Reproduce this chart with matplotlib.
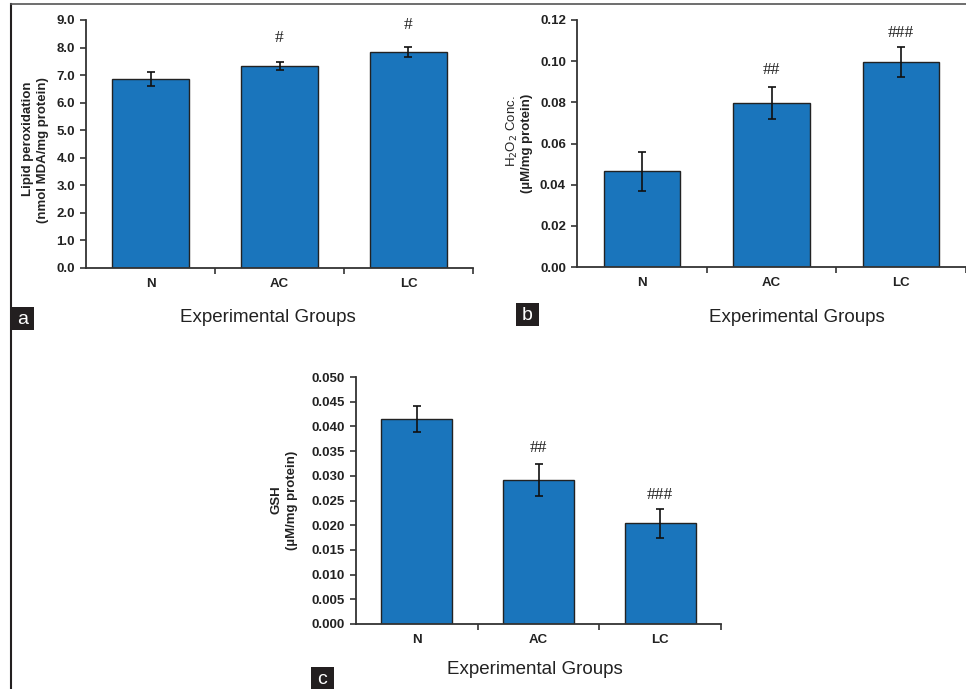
# Oxidative stress markers across experimental groups (panels a, b, c)

import numpy as np
import matplotlib
matplotlib.use("Agg")
import matplotlib.pyplot as plt
from matplotlib.patches import Rectangle
from matplotlib.lines import Line2D
from matplotlib.ticker import FormatStrFormatter, FixedLocator

plt.rcParams['font.family'] = ['Liberation Sans', 'DejaVu Sans']

groups = ["N", "AC", "LC"]

# panel a - lipid peroxidation
lpo_mean = [6.85, 7.32, 7.85]
lpo_err = [0.25, 0.15, 0.18]
lpo_sig = ["", "#", "#"]

# panel b - H2O2
h2o2_mean = [0.0466, 0.0798, 0.0996]
h2o2_err = [0.0095, 0.0078, 0.0073]
h2o2_sig = ["", "##", "###"]

# panel c - GSH
gsh_mean = [0.0415, 0.0291, 0.0204]
gsh_err = [0.0027, 0.0032, 0.0029]
gsh_sig = ["", "##", "###"]

W, H = 966, 689
BAR = "#1a75bc"
DARK = "#231f20"

fig = plt.figure(figsize=(W / 100, H / 100), dpi=100)


def fx(px):
    return px / W


def fy(py):
    return 1 - py / H


def panel(rect, mean, err, sig, ymax, step, fmt, ylines, sig_y, bw):
    ax = fig.add_axes(rect)
    x = np.arange(len(groups))
    ax.bar(x, mean, width=bw, color=BAR, edgecolor="#222222", linewidth=1.0, zorder=2)
    ax.errorbar(x, mean, yerr=err, fmt="none", ecolor="#111111", elinewidth=1.2,
                capsize=3, capthick=1.2, zorder=3)
    for xi, s, yv in zip(x, sig, sig_y):
        if s:
            ax.text(xi, yv, s, ha="center", va="center", fontsize=12.5,
                    family="Liberation Serif", color="#222222")
    ax.set_xlim(-0.5, len(groups) - 0.5)
    ax.set_ylim(0, ymax)
    ax.set_yticks(np.arange(0, ymax + step / 2, step))
    ax.yaxis.set_major_formatter(FormatStrFormatter(fmt))
    ax.set_xticks(x)
    ax.set_xticklabels(groups)
    ax.xaxis.set_minor_locator(FixedLocator([0.5, 1.5, 2.5]))
    ax.tick_params(axis="x", which="major", length=0, pad=7)
    ax.tick_params(axis="x", which="minor", length=4, width=1.2, direction="out", color="#333333")
    ax.tick_params(axis="y", length=4, width=1.2, pad=4, color="#333333")
    for lbl in ax.get_xticklabels() + ax.get_yticklabels():
        lbl.set_fontweight("bold")
        lbl.set_fontsize(9.5)
        lbl.set_color("#222222")
    for s in ["top", "right"]:
        ax.spines[s].set_visible(False)
    for s in ["left", "bottom"]:
        ax.spines[s].set_linewidth(1.3)
        ax.spines[s].set_color("#333333")
    # y label drawn line by line (text, x in axes fraction, y in axes fraction, weight)
    for txt, lx, ly, wt in ylines:
        ax.text(lx, ly, txt, transform=ax.transAxes, rotation=90, ha="center", va="center",
                fontsize=9.5, fontweight=wt, color="#222222")
    return ax


panel([fx(86), fy(268), fx(387), 248 / H], lpo_mean, lpo_err, lpo_sig, 9.0, 1.0, "%.1f",
      [("Lipid peroxidation", (28 - 86) / 387, 0.52, "bold"),
       ("(nmol MDA/mg protein)", (43 - 86) / 387, 0.476, "bold")],
      [8.38, 8.36, 8.82], 0.59)

panel([fx(577), fy(267), fx(389), 247 / H], h2o2_mean, h2o2_err, h2o2_sig, 0.12, 0.02, "%.2f",
      [("H$_2$O$_2$ Conc.", (512 - 577) / 389, 0.55, "normal"),
       ("(µM/mg protein)", (527 - 577) / 389, 0.502, "bold")],
      [0.0, 0.0957, 0.1137], 0.59)

panel([fx(356), fy(624), fx(365), 247 / H], gsh_mean, gsh_err, gsh_sig, 0.050, 0.005, "%.3f",
      [("GSH", (276 - 356) / 365, 0.502, "bold"),
       ("(µM/mg protein)", (292 - 356) / 365, 0.502, "bold")],
      [0.0, 0.0356, 0.0261], 0.585)

# x-axis titles
for cx, cy in [(268, 318), (797, 318), (535, 670)]:
    fig.text(fx(cx), fy(cy), "Experimental Groups", ha="center", va="center",
             fontsize=13.5, color="#222222")

# panel letters in dark boxes
for letter, x0, y0 in [("a", 11, 307), ("b", 516, 303), ("c", 311, 667)]:
    fig.add_artist(Rectangle((fx(x0), fy(y0 + 23)), fx(23), 23 / H, transform=fig.transFigure,
                             facecolor=DARK, edgecolor="none"))
    fig.text(fx(x0 + 11.5), fy(y0 + 12), letter, ha="center", va="center",
             fontsize=14, color="white")

# figure frame (left and top)
fig.add_artist(Line2D([fx(11), fx(11)], [fy(4), 0], transform=fig.transFigure,
                      color=DARK, linewidth=1.5))
fig.add_artist(Line2D([fx(11), 1], [fy(4), fy(4)], transform=fig.transFigure,
                      color="#555555", linewidth=1.2))

fig.savefig("out.png", dpi=100)
